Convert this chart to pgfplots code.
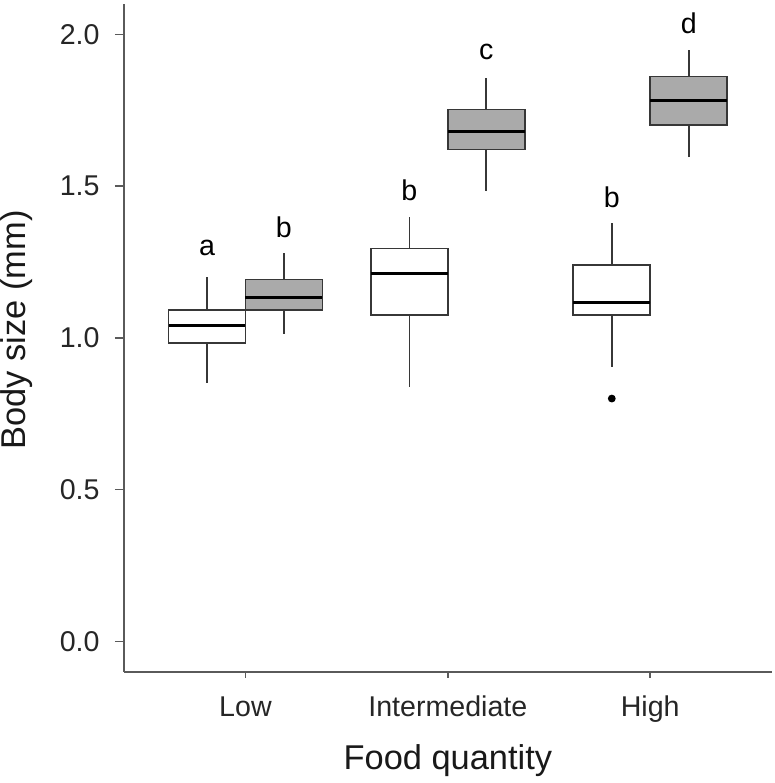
\documentclass[border=0pt]{standalone}
\usepackage{fontspec}
\setmainfont{Liberation Sans}
\usepackage{pgfplots}
\pgfplotsset{compat=1.18}
\usepgfplotslibrary{statistics}
\definecolor{axisgray}{RGB}{90,90,90}
\definecolor{boxline}{RGB}{55,55,55}
\definecolor{boxfill}{RGB}{170,170,170}
\newcommand{\ticksize}{\fontsize{14.3}{17}\selectfont}
\newcommand{\labsize}{\fontsize{17.2}{20}\selectfont}
\begin{document}
\begin{tikzpicture}
\begin{axis}[
  at={(0,0)}, anchor=south west,
  scale only axis,
  width=323.85pt, height=333.85pt,
  xmin=0.4, xmax=3.6,
  ymin=-0.1, ymax=2.1,
  axis lines*=left,
  axis line style={axisgray, line width=0.9pt},
  tick style={axisgray, line width=0.8pt},
  tick align=outside,
  major tick length=4.5pt,
  xtick style={/pgfplots/major tick length=3pt},
  xtick={1,2,3},
  xticklabels={Low,Intermediate,High},
  ytick={0,0.5,1,1.5,2},
  yticklabels={0.0,0.5,1.0,1.5,2.0},
  /pgf/number format/assume math mode=true,
  ticklabel style={font=\ticksize, text=black!85},
  xticklabel style={anchor=base, inner sep=0pt, yshift=-18pt},
  yticklabel style={anchor=east, inner sep=0pt, xshift=-7.5pt},
  xlabel={Food quantity},
  ylabel={Body size (mm)},
  label style={font=\labsize, text=black!90},
  xlabel style={at={(axis description cs:0.5,0)}, anchor=base, inner sep=0pt, yshift=-49pt},
  ylabel style={at={(axis description cs:-0.1914,0.512)}, anchor=north, inner sep=0pt},
  clip=false,
  boxplot/draw direction=y,
  boxplot/box extend=0.38,
  boxplot/whisker extend=0,
  boxplot/every median/.style={black, line width=1.5pt},
]
% Low, white
\addplot[boxplot prepared={draw position=0.81, lower whisker=0.852, lower quartile=0.982, median=1.042, upper quartile=1.091, upper whisker=1.201}, draw=boxline, line width=0.85pt, fill=white] coordinates {};
% Low, gray
\addplot[boxplot prepared={draw position=1.19, lower whisker=1.013, lower quartile=1.091, median=1.132, upper quartile=1.192, upper whisker=1.278}, draw=boxline, line width=0.85pt, fill=boxfill] coordinates {};
% Intermediate, white
\addplot[boxplot prepared={draw position=1.81, lower whisker=0.839, lower quartile=1.075, median=1.212, upper quartile=1.294, upper whisker=1.398}, draw=boxline, line width=0.85pt, fill=white] coordinates {};
% Intermediate, gray
\addplot[boxplot prepared={draw position=2.19, lower whisker=1.483, lower quartile=1.621, median=1.681, upper quartile=1.752, upper whisker=1.857}, draw=boxline, line width=0.85pt, fill=boxfill] coordinates {};
% High, white
\addplot[boxplot prepared={draw position=2.81, lower whisker=0.905, lower quartile=1.075, median=1.118, upper quartile=1.239, upper whisker=1.378}, draw=boxline, line width=0.85pt, fill=white, mark=*, mark size=1.5pt, mark options={fill=black, draw=black}] coordinates {(0,0.80)};
% High, gray
\addplot[boxplot prepared={draw position=3.19, lower whisker=1.595, lower quartile=1.702, median=1.782, upper quartile=1.861, upper whisker=1.949}, draw=boxline, line width=0.85pt, fill=boxfill] coordinates {};
% significance letters
\node[font=\ticksize, inner sep=0pt] at (axis cs:0.81,1.297) {a};
\node[font=\ticksize, inner sep=0pt] at (axis cs:1.19,1.365) {b};
\node[font=\ticksize, inner sep=0pt] at (axis cs:1.81,1.487) {b};
\node[font=\ticksize, inner sep=0pt] at (axis cs:2.19,1.941) {c};
\node[font=\ticksize, inner sep=0pt] at (axis cs:2.81,1.464) {b};
\node[font=\ticksize, inner sep=0pt] at (axis cs:3.19,2.037) {d};
\end{axis}
\pgfresetboundingbox
\path[use as bounding box] (-62pt,-55.65pt) rectangle (325.5pt,335.85pt);
\end{tikzpicture}
\end{document}
